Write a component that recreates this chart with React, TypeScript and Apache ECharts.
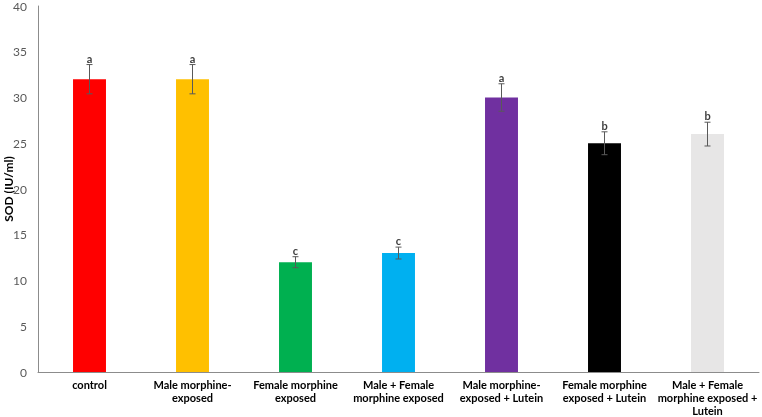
import React, { useEffect, useRef } from "react";
import * as echarts from "echarts";

const categories = [
  "control",
  "Male morphine-\nexposed",
  "Female morphine\nexposed",
  "Male + Female\nmorphine exposed",
  "Male morphine-\nexposed + Lutein",
  "Female morphine\nexposed + Lutein",
  "Male + Female\nmorphine exposed +\nLutein",
];
const values = [32, 32, 12, 13, 30, 25, 26];
const errors = [1.6, 1.6, 0.6, 0.65, 1.5, 1.25, 1.3];
const letters = ["a", "a", "c", "c", "a", "b", "b"];
const colors = ["#FF0000", "#FFC000", "#00B050", "#00B0F0", "#7030A0", "#000000", "#E7E6E6"];
const yTitle = "SOD (IU/ml)";

export default function App() {
  const ref = useRef<HTMLDivElement>(null);
  useEffect(() => {
    if (!ref.current) return;
    const chart = echarts.init(ref.current, null, { renderer: "svg" });
    const font = "Lato, 'Open Sans', sans-serif";
    chart.setOption({
      animation: false,
      grid: { left: 38, right: 3, top: 6, bottom: 45, containLabel: false, outerBoundsMode: "none" },
      graphic: [
        {
          type: "text",
          x: 8,
          y: 189,
          rotation: Math.PI / 2,
          style: {
            text: yTitle,
            fill: "#000",
            font: "bold 12px " + font,
            align: "center",
            verticalAlign: "middle",
          },
        },
      ],
      xAxis: {
        type: "category",
        data: categories,
        axisLine: { lineStyle: { color: "#8c8c8c", width: 1 } },
        axisTick: { show: false },
        axisLabel: {
          interval: 0,
          color: "#000",
          fontWeight: "bold",
          fontSize: 11,
          fontFamily: font,
          lineHeight: 13,
          margin: 6,
        },
      },
      yAxis: {
        type: "value",
        min: 0,
        max: 40,
        interval: 5,
        axisLine: { show: true, lineStyle: { color: "#8c8c8c", width: 1 } },
        axisTick: { show: false },
        splitLine: { show: false },
        axisLabel: { color: "#595959", fontSize: 12, fontFamily: font, margin: 11 },
      },
      series: [
        {
          type: "bar",
          barWidth: "32%",
          data: values.map((v, i) => ({ value: v, itemStyle: { color: colors[i] } })),
        },
        {
          type: "custom",
          data: values.map((v, i) => [i, v, errors[i]]),
          renderItem: (params: any, api: any) => {
            const x = api.value(0);
            const v = api.value(1);
            const e = api.value(2);
            const letter = letters[params.dataIndex];
            const top = api.coord([x, v + e]);
            const bot = api.coord([x, v - e]);
            const cap = 3;
            const stroke = { stroke: "#595959", lineWidth: 1 };
            return {
              type: "group",
              children: [
                { type: "line", shape: { x1: top[0], y1: top[1], x2: bot[0], y2: bot[1] }, style: stroke },
                { type: "line", shape: { x1: top[0] - cap, y1: top[1], x2: top[0] + cap, y2: top[1] }, style: stroke },
                { type: "line", shape: { x1: bot[0] - cap, y1: bot[1], x2: bot[0] + cap, y2: bot[1] }, style: stroke },
                {
                  type: "text",
                  x: top[0],
                  y: top[1] - 1,
                  style: {
                    text: letter,
                    fill: "#404040",
                    font: "bold 11px " + font,
                    align: "center",
                    verticalAlign: "bottom",
                  },
                },
              ],
            };
          },
          z: 5,
        },
      ],
    });
    return () => chart.dispose();
  }, []);
  return <div ref={ref} style={{ position: "fixed", left: 0, top: 0, width: 762, height: 417 }} />;
}
